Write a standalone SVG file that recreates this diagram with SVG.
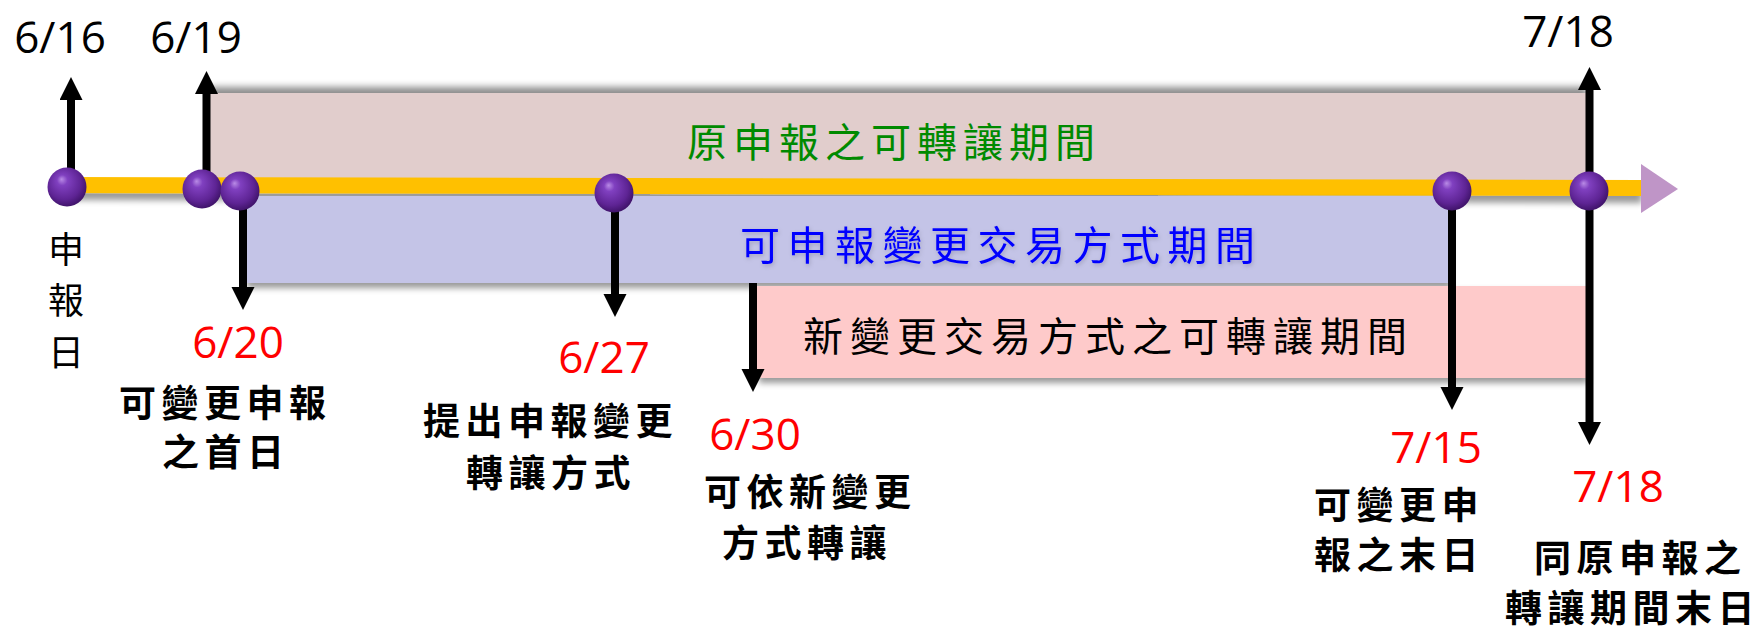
<svg xmlns="http://www.w3.org/2000/svg" width="1761" height="630" viewBox="0 0 1761 630">
<defs>
<style>
.date{font-family:"Open Sans","Liberation Sans",sans-serif;font-size:44px;text-anchor:middle}
.red{fill:#FF0000}
.blk{fill:#000}
.lbl{font-family:"Noto Sans CJK TC","Noto Sans CJK SC",sans-serif;font-size:37px;font-weight:700;letter-spacing:5.5px;fill:#000}
.bar{font-family:"Noto Sans CJK TC","Noto Sans CJK SC",sans-serif;font-size:40px;font-weight:400}
.vt{font-family:"Noto Sans CJK TC","Noto Sans CJK SC",sans-serif;font-size:36px;font-weight:400;text-anchor:middle;fill:#000}
.arr{stroke:#000;stroke-width:8;fill:none;marker-end:url(#ah)}
.dot{fill:url(#sphere)}
</style>
<marker id="ah" markerUnits="userSpaceOnUse" markerWidth="24" markerHeight="24" refX="0" refY="11.5" orient="auto">
<path d="M0,0 L23,11.5 L0,23 z" fill="#000"/>
</marker>
<marker id="ahs" markerUnits="userSpaceOnUse" markerWidth="24" markerHeight="24" refX="0" refY="11.5" orient="auto-start-reverse">
<path d="M0,0 L23,11.5 L0,23 z" fill="#000"/>
</marker>
<radialGradient id="sphere" cx="0.45" cy="0.42" r="0.62" fx="0.36" fy="0.3">
<stop offset="0" stop-color="#B98BE6"/>
<stop offset="0.22" stop-color="#8040C0"/>
<stop offset="0.7" stop-color="#5E2494"/>
<stop offset="1" stop-color="#3A1062"/>
</radialGradient>
<filter id="shDown" x="-5%" y="-40%" width="110%" height="180%">
<feGaussianBlur in="SourceAlpha" stdDeviation="3"/>
<feOffset dx="2" dy="5" result="b"/>
<feFlood flood-color="#000" flood-opacity="0.4"/>
<feComposite in2="b" operator="in"/>
<feMerge><feMergeNode/><feMergeNode in="SourceGraphic"/></feMerge>
</filter>
<filter id="shUp" x="-5%" y="-40%" width="110%" height="180%">
<feGaussianBlur in="SourceAlpha" stdDeviation="3.5"/>
<feOffset dy="-6" result="b"/>
<feFlood flood-color="#000" flood-opacity="0.45"/>
<feComposite in2="b" operator="in"/>
<feMerge><feMergeNode/><feMergeNode in="SourceGraphic"/></feMerge>
</filter>
<filter id="shLine" x="-2%" y="-100%" width="104%" height="300%">
<feGaussianBlur in="SourceAlpha" stdDeviation="3"/>
<feOffset dy="7" result="b"/>
<feFlood flood-color="#000" flood-opacity="0.4"/>
<feComposite in2="b" operator="in"/>
<feMerge><feMergeNode/><feMergeNode in="SourceGraphic"/></feMerge>
</filter>
<filter id="txtSh" x="-5%" y="-30%" width="110%" height="160%">
<feGaussianBlur in="SourceAlpha" stdDeviation="2"/>
<feOffset dx="1" dy="2" result="b"/>
<feFlood flood-color="#000" flood-opacity="0.18"/>
<feComposite in2="b" operator="in"/>
<feMerge><feMergeNode/><feMergeNode in="SourceGraphic"/></feMerge>
</filter>
</defs>
<rect width="1761" height="630" fill="#FFFFFF"/>

<g id="period-original">
<rect x="210" y="93" width="1377" height="92" fill="#E1CDCC" filter="url(#shUp)"/>
<text class="bar" x="687" y="157" fill="#008A00" style="letter-spacing:6px">原申報之可轉讓期間</text>
</g>

<g id="timeline">
<polygon points="67,177 1642,180 1642,196 67,193" fill="#FFC000" filter="url(#shLine)"/>
<polygon points="1641,164 1678,189 1641,213" fill="#BF95C7"/>
</g>

<g id="period-change">
<rect x="245" y="196" width="1204" height="87" fill="#C4C4E7" filter="url(#shDown)"/>
<text class="bar" x="740" y="260" fill="#0000FF" style="letter-spacing:7.5px" filter="url(#txtSh)">可申報變更交易方式期間</text>
</g>

<g id="period-new">
<rect x="757" y="286" width="829" height="92" fill="#FECACA" filter="url(#shDown)"/>
<text class="bar" x="803" y="351" fill="#000" style="letter-spacing:7px">新變更交易方式之可轉讓期間</text>
</g>

<g id="connectors">
<line class="arr" x1="71" y1="187" x2="71" y2="100"/>
<line class="arr" x1="206.5" y1="189" x2="206.5" y2="94"/>
<line class="arr" x1="243" y1="191" x2="243" y2="287"/>
<line class="arr" x1="615" y1="193" x2="615" y2="294"/>
<line class="arr" x1="753" y1="283" x2="753" y2="369"/>
<line class="arr" x1="1452" y1="191" x2="1452" y2="387"/>
<line class="arr" x1="1589.5" y1="90" x2="1589.5" y2="422" style="marker-start:url(#ahs)"/>
</g>

<g id="node-0616">
<circle class="dot" cx="67" cy="187" r="19.5"/>
<text class="date blk" x="60" y="53">6/16</text>
<text class="vt" x="66" y="263">申</text>
<text class="vt" x="66" y="314">報</text>
<text class="vt" x="66" y="366">日</text>
</g>

<g id="node-0619">
<circle class="dot" cx="202" cy="189" r="19.5"/>
<text class="date blk" x="196" y="53">6/19</text>
</g>

<g id="node-0620">
<circle class="dot" cx="240" cy="191" r="19.5"/>
<text class="date red" x="238" y="358">6/20</text>
<text class="lbl" x="119" y="417">可變更申報</text>
<text class="lbl" x="162" y="466">之首日</text>
</g>

<g id="node-0627">
<circle class="dot" cx="614" cy="193" r="19.5"/>
<text class="date red" x="604" y="373">6/27</text>
<text class="lbl" x="423" y="435">提出申報變更</text>
<text class="lbl" x="466" y="487">轉讓方式</text>
</g>

<g id="node-0630">
<text class="date red" x="755" y="450">6/30</text>
<text class="lbl" x="704" y="506">可依新變更</text>
<text class="lbl" x="722" y="557">方式轉讓</text>
</g>

<g id="node-0715">
<circle class="dot" cx="1452" cy="191" r="19.5"/>
<text class="date red" x="1436" y="463">7/15</text>
<text class="lbl" x="1314" y="519">可變更申</text>
<text class="lbl" x="1314" y="569">報之末日</text>
</g>

<g id="node-0718">
<circle class="dot" cx="1589" cy="191" r="19.5"/>
<text class="date blk" x="1568" y="47">7/18</text>
<text class="date red" x="1618" y="502">7/18</text>
<text class="lbl" x="1534" y="572">同原申報之</text>
<text class="lbl" x="1505" y="622">轉讓期間末日</text>
</g>
</svg>
